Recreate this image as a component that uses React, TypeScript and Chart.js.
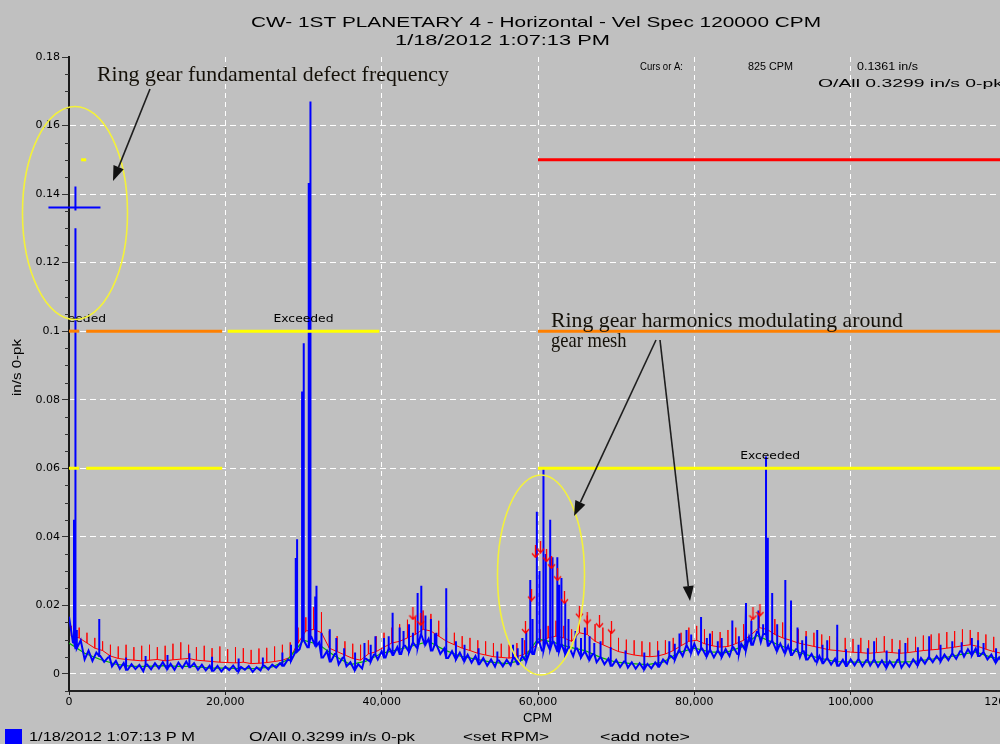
import React, { useEffect, useRef } from "react";
import { Chart, registerables } from "chart.js";
Chart.register(...registerables);

const W = 1040;
const H = 744;

// ---- axis / ticks ----
const xMin = 0;
const xMax = 120000;
const xStep = 20000;
const yMin = -0.005;
const yMax = 0.18;
const yStep = 0.005;
const yLabels = ["0", "0.02", "0.04", "0.06", "0.08", "0.1", "0.12", "0.14", "0.16", "0.18"];

// ---- blue spectrum: noise floor every 500 CPM (in/s 0-pk) ----
const blueStep = 500;
const blueFloor = [
  0.0167, 0.0092, 0.0075, 0.0098, 0.0042, 0.0068, 0.0038, 0.0062, 0.0052, 0.0035,
  0.0048, 0.0022, 0.0038, 0.0015, 0.0032, 0.0012, 0.0028, 0.0014, 0.0026, 0.0008,
  0.0027, 0.0013, 0.0031, 0.0016, 0.0034, 0.0015, 0.0029, 0.0012, 0.0033, 0.0017,
  0.0036, 0.0019, 0.0031, 0.0012, 0.0027, 0.001, 0.0024, 0.0009, 0.0023, 0.0007,
  0.0021, 0.0011, 0.0024, 0.0008, 0.002, 0.0012, 0.0023, 0.0006, 0.0019, 0.001,
  0.0024, 0.0013, 0.0027, 0.0018, 0.0031, 0.0024, 0.0042, 0.0038, 0.0065, 0.0072,
  0.0098, 0.0078, 0.0108, 0.0082, 0.0092, 0.0048, 0.0066, 0.0036, 0.0058, 0.0028,
  0.0047, 0.0022, 0.0034, 0.0012, 0.0028, 0.0016, 0.0044, 0.0036, 0.0056, 0.0042,
  0.0066, 0.0048, 0.0074, 0.0055, 0.0078, 0.0058, 0.0082, 0.0064, 0.0092, 0.0076,
  0.0115, 0.0086, 0.0102, 0.0068, 0.0086, 0.0058, 0.0074, 0.0046, 0.0066, 0.0042,
  0.0062, 0.0038, 0.0056, 0.0033, 0.0052, 0.0028, 0.0046, 0.0024, 0.0042, 0.0021,
  0.0039, 0.0022, 0.0041, 0.0025, 0.0046, 0.0028, 0.0052, 0.0036, 0.0068, 0.0058,
  0.0092, 0.0068, 0.0098, 0.0072, 0.0094, 0.0066, 0.0088, 0.0058, 0.0078, 0.0052,
  0.0074, 0.0048, 0.0066, 0.0042, 0.0058, 0.0034, 0.005, 0.0028, 0.0044, 0.0024,
  0.0041, 0.002, 0.0036, 0.0018, 0.0034, 0.0015, 0.0031, 0.0014, 0.0029, 0.0016,
  0.0033, 0.0021, 0.0042, 0.003, 0.0052, 0.0041, 0.0068, 0.0052, 0.0084, 0.0062,
  0.0088, 0.0058, 0.0074, 0.0052, 0.0071, 0.0048, 0.0069, 0.0049, 0.0072, 0.0052,
  0.0078, 0.0058, 0.0088, 0.007, 0.0108, 0.0085, 0.0122, 0.0092, 0.0116, 0.0082,
  0.0098, 0.0068, 0.0088, 0.0062, 0.0082, 0.0055, 0.0072, 0.0048, 0.0066, 0.0042,
  0.0058, 0.0036, 0.0052, 0.0031, 0.0047, 0.0027, 0.0044, 0.0024, 0.0041, 0.0023,
  0.0042, 0.0025, 0.0044, 0.0022, 0.004, 0.0024, 0.0043, 0.0021, 0.0039, 0.0019,
  0.0037, 0.002, 0.0041, 0.0018, 0.0036, 0.0021, 0.0042, 0.0026, 0.0046, 0.003,
  0.0049, 0.0034, 0.0052, 0.0036, 0.0056, 0.004, 0.006, 0.0044, 0.0066, 0.005,
  0.0072, 0.0054, 0.0074, 0.0052, 0.0064, 0.0042, 0.0056, 0.0034, 0.0048, 0.003,
  0.0044,
];

// ---- blue spectral peaks [CPM, in/s] ----
const bluePeaks: [number, number][] = [
  [640, 0.045], [825, 0.13], [1000, 0.0128], [3870, 0.016],
  [29010, 0.0338], [29180, 0.0393], [29820, 0.0824], [30030, 0.0965], [30670, 0.1432], [30890, 0.167],
  [31500, 0.0226], [31660, 0.0257], [32300, 0.012], [33360, 0.013], [34200, 0.0105],
  [37800, 0.009], [39200, 0.011], [40300, 0.0105], [41400, 0.0178], [42300, 0.0135], [43500, 0.0145],
  [44000, 0.012], [44600, 0.0236], [45070, 0.0257], [45600, 0.017], [46300, 0.016], [47000, 0.012],
  [48260, 0.025], [49500, 0.0095],
  [56800, 0.0085], [58000, 0.0105], [58500, 0.0125], [59010, 0.0274], [59300, 0.016], [59850, 0.0473],
  [60190, 0.03], [60700, 0.0597], [61000, 0.035], [61560, 0.045], [61860, 0.034], [62460, 0.034],
  [62700, 0.026], [63000, 0.028], [63480, 0.021], [63900, 0.016], [64800, 0.0125], [66000, 0.0135],
  [66600, 0.011], [68000, 0.0095],
  [76800, 0.0095], [78100, 0.0118], [79000, 0.0128], [79600, 0.0115], [80860, 0.0166], [82000, 0.0118],
  [83500, 0.0105], [84860, 0.0156], [86610, 0.0207], [87300, 0.0155], [88200, 0.0185], [89170, 0.0634],
  [89400, 0.0397], [89940, 0.0236], [90600, 0.0145], [91640, 0.0274], [92370, 0.0214], [93200, 0.0135],
  [94300, 0.011], [95720, 0.0128], [97000, 0.0098], [98280, 0.0143], [101000, 0.0085], [103000, 0.0095],
  [107000, 0.009], [110040, 0.011], [113000, 0.0095], [115500, 0.0105], [117000, 0.009],
];

// ---- small noise spikes in the blue floor [CPM, in/s] ----
const blueNoiseSpikes: [number, number][] = [
  [5200, 0.0055], [7300, 0.0048], [9800, 0.0052], [12600, 0.0055], [15400, 0.006], [18300, 0.005],
  [21700, 0.0045], [24800, 0.0048], [27300, 0.0062], [28400, 0.0085], [35200, 0.0075], [36600, 0.0062],
  [38600, 0.0085], [40900, 0.011], [42800, 0.0125], [46800, 0.0118], [50600, 0.0085], [52400, 0.0075],
  [54800, 0.0065], [57400, 0.0075], [65500, 0.0105], [67200, 0.009], [69300, 0.0078], [71200, 0.0068],
  [73600, 0.0062], [75400, 0.0068], [77500, 0.0088], [81600, 0.0105], [83000, 0.0095], [85700, 0.011],
  [88800, 0.0145], [93800, 0.0098], [96400, 0.0085], [99400, 0.0072], [102200, 0.0075], [104600, 0.0068],
  [106200, 0.0072], [108600, 0.0078], [111500, 0.0085], [114200, 0.0092], [116300, 0.0098], [118600, 0.0075],
];

// ---- red reference spectrum every 1000 CPM: floor and spike tops ----
const redStep = 1000;
const redBase = [
  0.011, 0.0105, 0.009, 0.0075, 0.0068, 0.0052, 0.0045, 0.0042, 0.004, 0.0038,
  0.004, 0.0042, 0.0038, 0.0041, 0.0043, 0.0045, 0.004, 0.0038, 0.0036, 0.0034,
  0.0033, 0.0032, 0.0034, 0.003, 0.0031, 0.0033, 0.0036, 0.004, 0.0048, 0.009,
  0.0125, 0.013, 0.012, 0.0075, 0.0065, 0.0055, 0.0045, 0.004, 0.0058, 0.0065,
  0.0078, 0.009, 0.0095, 0.0105, 0.0115, 0.013, 0.0125, 0.011, 0.0095, 0.0085,
  0.0075, 0.0068, 0.006, 0.0055, 0.005, 0.0048, 0.0046, 0.005, 0.0058, 0.0075,
  0.0095, 0.0105, 0.011, 0.0105, 0.0095, 0.012, 0.0115, 0.0095, 0.0085, 0.0075,
  0.0065, 0.006, 0.0055, 0.0052, 0.005, 0.0052, 0.0058, 0.0068, 0.0082, 0.0095,
  0.0098, 0.0088, 0.0082, 0.0078, 0.008, 0.0088, 0.0098, 0.0115, 0.0135, 0.013,
  0.0115, 0.0105, 0.0098, 0.009, 0.0085, 0.008, 0.0075, 0.007, 0.0068, 0.0065,
  0.0063, 0.0062, 0.006, 0.0062, 0.0064, 0.0062, 0.006, 0.0062, 0.0065, 0.0068,
  0.007, 0.0072, 0.0075, 0.0078, 0.0082, 0.0085, 0.008, 0.0072, 0.0065, 0.006,
  0.0058,
];
const redTop = [
  0.014, 0.0135, 0.012, 0.0105, 0.0095, 0.0085, 0.008, 0.0085, 0.0078, 0.0082,
  0.0085, 0.0078, 0.0082, 0.0088, 0.0092, 0.0085, 0.0078, 0.0082, 0.0075, 0.008,
  0.0072, 0.0078, 0.0075, 0.007, 0.0074, 0.0076, 0.008, 0.0085, 0.0092, 0.0135,
  0.0165, 0.0195, 0.018, 0.0125, 0.011, 0.0095, 0.0088, 0.0085, 0.0098, 0.011,
  0.012, 0.0135, 0.0145, 0.0158, 0.0165, 0.0185, 0.0175, 0.0155, 0.0135, 0.012,
  0.011, 0.0105, 0.0098, 0.0095, 0.009, 0.0088, 0.0085, 0.009, 0.0098, 0.0115,
  0.013, 0.014, 0.0155, 0.014, 0.013, 0.0185, 0.017, 0.0145, 0.0135, 0.0125,
  0.0105, 0.01, 0.0098, 0.0095, 0.0092, 0.0095, 0.0098, 0.0105, 0.012, 0.0135,
  0.014, 0.013, 0.0125, 0.0122, 0.0128, 0.0135, 0.0145, 0.016, 0.018, 0.0175,
  0.016, 0.015, 0.014, 0.013, 0.0125, 0.012, 0.0115, 0.011, 0.0108, 0.0105,
  0.0102, 0.0105, 0.0098, 0.0105, 0.011, 0.0102, 0.0098, 0.0105, 0.0108, 0.0112,
  0.0115, 0.0118, 0.0122, 0.0125, 0.013, 0.0128, 0.0122, 0.0115, 0.0108, 0.01,
  0.0098,
];

// ---- green trend every 2000 CPM ----
const greenStep = 2000;
const greenVals = [
  0.009, 0.006, 0.0042, 0.0028, 0.0022, 0.0022, 0.0024, 0.0022, 0.0022, 0.0017,
  0.0017, 0.0015, 0.0016, 0.002, 0.0042, 0.0098, 0.0085, 0.0052, 0.0027, 0.0037,
  0.006, 0.007, 0.0082, 0.0095, 0.007, 0.0052, 0.0043, 0.0034, 0.003, 0.004,
  0.0102, 0.0092, 0.0078, 0.0068, 0.0048, 0.0034, 0.003, 0.0027, 0.0034, 0.0062,
  0.0075, 0.0064, 0.0062, 0.0078, 0.0112, 0.0092, 0.0074, 0.0058, 0.0046, 0.0036,
  0.0034, 0.0034, 0.0035, 0.0034, 0.0036, 0.0042, 0.0047, 0.0056, 0.0064, 0.0048,
  0.0042,
];

// ---- red peak markers [CPM, in/s] ----
const redMarkers: [number, number][] = [
  [44000, 0.0175], [45000, 0.0158], [58400, 0.0135], [59170, 0.023], [59680, 0.0356], [60320, 0.037],
  [61090, 0.0344], [61730, 0.0324], [62500, 0.0289], [63390, 0.0222], [65300, 0.018], [66300, 0.0163],
  [67860, 0.0152], [69400, 0.0134], [87500, 0.0175], [88400, 0.0185],
];

// ---- alarm bands [fromCPM, toCPM, level] ----
const redAlarm: [number, number, number][] = [[60000, 125000, 0.15]];
const orangeAlarm: [number, number, number][] = [[0, 1300, 0.1], [2200, 19600, 0.1], [60000, 125000, 0.1]];
const yellowAlarm: [number, number, number][] = [
  [0, 1300, 0.06], [2200, 19600, 0.06], [20300, 39700, 0.1], [60000, 125000, 0.06], [1550, 2200, 0.15],
];
const exceeded: [number, number][] = [[900, 0.1], [30000, 0.1], [89700, 0.06]];

// ---- cursor ----
const cursorCpm = 825;
const cursorVal = 0.1361;

const isMajor = (v: number) => {
  const k = v / 0.02;
  return Math.abs(k - Math.round(k)) < 1e-6 && v > -1e-9;
};

function fitText(ctx: CanvasRenderingContext2D, text: string, left: number, right: number, cy: number, font: string, color = "#000", scale?: number) {
  ctx.save();
  ctx.font = font;
  ctx.fillStyle = color;
  ctx.textBaseline = "middle";
  ctx.textAlign = "left";
  const w = ctx.measureText(text).width;
  const sx = scale ?? (right - left) / w;
  ctx.translate(left, cy);
  ctx.scale(sx, 1);
  ctx.fillText(text, 0, 0);
  ctx.restore();
  return sx;
}

function arrow(ctx: CanvasRenderingContext2D, x1: number, y1: number, x2: number, y2: number) {
  const ang = Math.atan2(y2 - y1, x2 - x1);
  const L = 15, hw = 5.5;
  const bx = x2 - L * Math.cos(ang), by = y2 - L * Math.sin(ang);
  ctx.save();
  ctx.strokeStyle = "#1e1e1e";
  ctx.lineWidth = 1.6;
  ctx.beginPath();
  ctx.moveTo(x1, y1);
  ctx.lineTo(bx, by);
  ctx.stroke();
  ctx.fillStyle = "#111";
  ctx.beginPath();
  ctx.moveTo(x2, y2);
  ctx.lineTo(bx + hw * Math.sin(ang), by - hw * Math.cos(ang));
  ctx.lineTo(bx - hw * Math.sin(ang), by + hw * Math.cos(ang));
  ctx.closePath();
  ctx.fill();
  ctx.restore();
}

export default function App() {
  const ref = useRef<HTMLCanvasElement>(null);

  useEffect(() => {
    document.documentElement.style.overflow = "hidden";
    document.body.style.margin = "0";
    const canvas = ref.current!;

    // blue data
    const bluePts: { x: number; y: number }[] = blueFloor.map((v, i) => ({ x: i * blueStep, y: v }));
    [...bluePeaks, ...blueNoiseSpikes].forEach(([c, a]) => {
      const b = blueFloor[Math.min(blueFloor.length - 1, Math.round(c / blueStep))];
      bluePts.push({ x: c - 1, y: b }, { x: c, y: a }, { x: c + 1, y: b });
    });
    bluePts.sort((p, q) => p.x - q.x);

    // red data
    const redPts: { x: number; y: number }[] = [];
    redBase.forEach((v, i) => {
      const x = i * redStep + 300;
      redPts.push({ x: x - 1, y: v }, { x, y: redTop[i] }, { x: x + 1, y: v });
    });

    const greenPts = greenVals.map((v, i) => ({ x: i * greenStep, y: v }));
    const markerPts = redMarkers.map(([x, y]) => ({ x, y }));

    // arrow marker image
    const mk = document.createElement("canvas");
    mk.width = 9;
    mk.height = 13;
    const m = mk.getContext("2d")!;
    m.strokeStyle = "#ff0000";
    m.lineWidth = 1.3;
    m.beginPath();
    m.moveTo(4.5, 0);
    m.lineTo(4.5, 12);
    m.moveTo(1, 8);
    m.lineTo(4.5, 12);
    m.lineTo(8, 8);
    m.stroke();

    const alarmSets: any[] = [];
    const addAlarms = (list: [number, number, number][], color: string) =>
      list.forEach(([a, b, lv]) =>
        alarmSets.push({
          data: [{ x: a, y: lv }, { x: b, y: lv }],
          borderColor: color,
          borderWidth: 3,
          borderCapStyle: "butt",
          pointRadius: 0,
        })
      );
    addAlarms(redAlarm, "#ff0000");
    addAlarms(orangeAlarm, "#ff8000");
    addAlarms(yellowAlarm, "#ffff00");

    const bg = {
      id: "bg",
      beforeDraw(chart: any) {
        const c = chart.ctx;
        c.save();
        c.fillStyle = "#c0c0c0";
        c.fillRect(0, 0, chart.width, chart.height);
        c.restore();
      },
    };

    const overlay = {
      id: "overlay",
      afterDraw(chart: any) {
        const ctx: CanvasRenderingContext2D = chart.ctx;
        const xs = chart.scales.x;
        const ys = chart.scales.y;
        const ca = chart.chartArea;

        // minor y ticks
        ctx.save();
        ctx.strokeStyle = "#333";
        ctx.lineWidth = 1;
        ys.ticks.forEach((t: any) => {
          if (!isMajor(t.value)) {
            const y = Math.round(ys.getPixelForValue(t.value)) + 0.5;
            ctx.beginPath();
            ctx.moveTo(ca.left - 4, y);
            ctx.lineTo(ca.left, y);
            ctx.stroke();
          }
        });
        ctx.restore();

        // exceeded labels
        ctx.save();
        ctx.beginPath();
        ctx.rect(ca.left + 1, 0, ca.right - ca.left, chart.height);
        ctx.clip();
        exceeded.forEach(([c, v]) => {
          const px = xs.getPixelForValue(c);
          const py = ys.getPixelForValue(v) - 12;
          fitText(ctx, "Exceeded", px - 30, px + 30, py, '11px "DejaVu Sans"', "#000");
        });
        ctx.restore();

        // cursor crosshair
        const cx = xs.getPixelForValue(cursorCpm);
        const cy = ys.getPixelForValue(cursorVal);
        ctx.save();
        ctx.strokeStyle = "#0000ff";
        ctx.lineWidth = 2;
        ctx.beginPath();
        ctx.moveTo(cx - 27, cy);
        ctx.lineTo(cx + 25, cy);
        ctx.moveTo(cx, cy - 21);
        ctx.lineTo(cx, cy + 3);
        ctx.stroke();
        ctx.restore();

        // ellipses
        ctx.save();
        ctx.strokeStyle = "#f4f23a";
        ctx.lineWidth = 1.6;
        ctx.beginPath();
        ctx.ellipse(75, 213, 52.5, 106.5, 0, 0, Math.PI * 2);
        ctx.stroke();
        ctx.beginPath();
        ctx.ellipse(541, 575, 43.5, 100, 0, 0, Math.PI * 2);
        ctx.stroke();
        ctx.restore();

        // arrows
        arrow(ctx, 150, 89, 113, 181);
        arrow(ctx, 656, 340, 574, 516);
        arrow(ctx, 660, 340, 690, 601);

        // annotation texts
        const serif = '21px "Liberation Serif"';
        fitText(ctx, "Ring gear fundamental defect frequency", 97, 449, 75, serif, "#141008");
        const s2 = fitText(ctx, "Ring gear harmonics modulating around", 551, 903, 321, serif, "#141008");
        fitText(ctx, "gear mesh", 551, 0, 341, serif, "#141008", s2 * 0.85);

        // title
        const sans = '15px "Liberation Sans"';
        fitText(ctx, "CW- 1ST PLANETARY 4 - Horizontal - Vel Spec 120000 CPM", 251, 821, 23, sans);
        fitText(ctx, "1/18/2012 1:07:13 PM", 395, 610, 41, sans);

        // cursor readout
        const small = '11px "Liberation Sans"';
        fitText(ctx, "Curs or A:", 640, 683, 67, small);
        fitText(ctx, "825 CPM", 748, 793, 67, small);
        fitText(ctx, "0.1361 in/s", 857, 918, 67, small);
        fitText(ctx, "O/All 0.3299 in/s 0-pk", 818, 1003, 84, small);

        // axis titles
        ctx.save();
        ctx.translate(18, 368);
        ctx.rotate(-Math.PI / 2);
        fitText(ctx, "in/s 0-pk", -28, 29, 0, '12px "Liberation Sans"');
        ctx.restore();
        fitText(ctx, "CPM", 523, 552, 719, '12px "Liberation Sans"');

        // footer
        ctx.save();
        ctx.fillStyle = "#0000ff";
        ctx.fillRect(5, 729, 17, 15);
        ctx.restore();
        const foot = '12px "Liberation Sans"';
        fitText(ctx, "1/18/2012 1:07:13 P M", 29, 195, 738, foot);
        fitText(ctx, "O/All 0.3299 in/s 0-pk", 249, 415, 738, foot);
        fitText(ctx, "<set RPM>", 463, 549, 738, foot);
        fitText(ctx, "<add note>", 600, 690, 738, foot);
      },
    };

    const chart = new Chart(canvas, {
      type: "line",
      data: {
        datasets: [
          ...alarmSets,
          {
            data: markerPts,
            showLine: false,
            pointStyle: mk as any,
            pointRadius: 6,
            borderColor: "#ff0000",
          },
          {
            data: bluePts,
            borderColor: "#0000ff",
            borderWidth: 2,
            pointRadius: 0,
          },
          {
            data: greenPts,
            borderColor: "#00b400",
            borderWidth: 1.2,
            pointRadius: 0,
          },
          {
            data: redPts,
            borderColor: "#ff0000",
            borderWidth: 1,
            pointRadius: 0,
          },
        ],
      } as any,
      options: {
        responsive: false,
        animation: false,
        devicePixelRatio: 1,
        events: [],
        layout: { padding: { top: 57, left: 0, right: W - 1007, bottom: 0 } },
        plugins: { legend: { display: false }, tooltip: { enabled: false }, title: { display: false } },
        elements: { line: { tension: 0 }, point: { radius: 0 } },
        scales: {
          x: {
            type: "linear",
            min: xMin,
            max: xMax,
            ticks: {
              stepSize: xStep,
              autoSkip: false,
              maxRotation: 0,
              padding: 1,
              color: "#000",
              font: { family: "DejaVu Sans", size: 11 },
              callback: (v: any) => Number(v).toLocaleString("en-US"),
            },
            grid: { color: "#ffffff", lineWidth: 1, tickLength: 4, tickColor: "#222" },
            border: { color: "#222", width: 2, dash: [5, 4] },
            afterFit: (s: any) => {
              s.height = 53;
            },
          },
          y: {
            type: "linear",
            min: yMin,
            max: yMax,
            ticks: {
              stepSize: yStep,
              autoSkip: false,
              padding: 2,
              color: "#000",
              font: { family: "DejaVu Sans", size: 11 },
              callback: (v: any) => (isMajor(Number(v)) ? yLabels[Math.round(Number(v) / 0.02)] : ""),
            },
            grid: {
              color: (c: any) => (c.tick && isMajor(c.tick.value) && c.tick.value < 0.179 ? "#ffffff" : "rgba(0,0,0,0)"),
              tickColor: (c: any) => (c.tick && isMajor(c.tick.value) ? "#333" : "rgba(0,0,0,0)"),
              lineWidth: 1,
              tickLength: 7,
            },
            border: { color: "#1a1a1a", width: 2, dash: [6, 4] },
            afterFit: (s: any) => {
              s.width = 69;
            },
          },
        },
      } as any,
      plugins: [bg, overlay],
    });

    return () => chart.destroy();
  }, []);

  return (
    <div style={{ position: "fixed", left: 0, top: 0, width: W, height: H, background: "#c0c0c0", overflow: "hidden" }}>
      <canvas ref={ref} width={W} height={H} style={{ display: "block", width: W, height: H }} />
    </div>
  );
}
